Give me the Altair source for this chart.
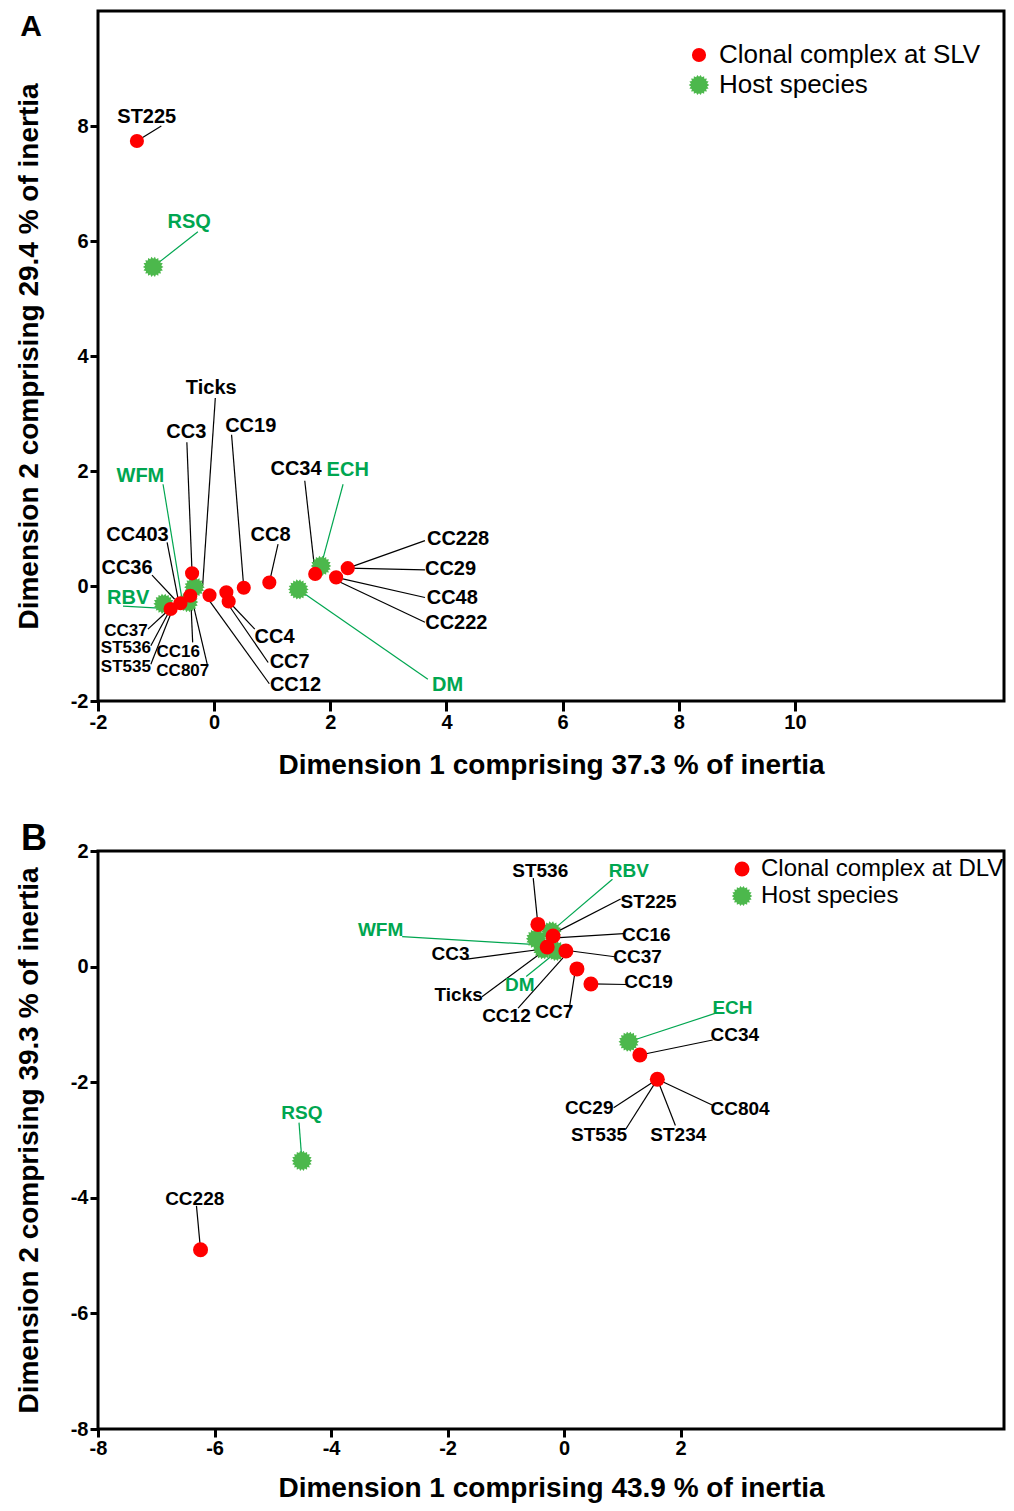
import math
import altair as alt
import pandas as pd

# ---------------- Panel A data ----------------
a_cc_x = [-1.33, -0.38, -0.75, -0.58, -0.41, -0.08, 0.21, 0.25, 0.51, 0.95, 1.74, 2.10, 2.30]
a_cc_y = [7.74, 0.22, -0.40, -0.30, -0.17, -0.16, -0.11, -0.27, -0.03, 0.06, 0.21, 0.15, 0.31]
a_host_names = ["RSQ", "RBV", "WFM", "Ticks", "DM", "ECH"]
a_host_x = [-1.05, -0.87, -0.45, -0.34, 1.45, 1.84]
a_host_y = [5.55, -0.31, -0.28, -0.02, -0.06, 0.35]

a_lab_text = ["ST225", "RSQ", "Ticks", "CC3", "CC19", "WFM", "CC403", "CC36", "RBV",
              "CC37", "ST536", "ST535", "CC16", "CC807", "CC4", "CC7", "CC12", "CC8",
              "CC34", "ECH", "DM", "CC228", "CC29", "CC48", "CC222"]
a_lab_kind = ["cc", "host", "cc", "cc", "cc", "host", "cc", "cc", "host",
              "cc", "cc", "cc", "cc", "cc", "cc", "cc", "cc", "cc",
              "cc", "host", "host", "cc", "cc", "cc", "cc"]
a_lab_x = [-1.16, -0.43, -0.05, -0.48, 0.63, -1.27, -1.32, -1.50, -1.48,
           -1.52, -1.52, -1.52, -0.62, -0.54, 1.04, 1.30, 1.40, 0.97,
           1.41, 2.30, 4.02, 4.20, 4.07, 4.10, 4.17]
a_lab_y = [8.16, 6.33, 3.44, 2.68, 2.78, 1.91, 0.89, 0.31, -0.20,
           -0.79, -1.07, -1.41, -1.14, -1.47, -0.88, -1.33, -1.72, 0.89,
           2.03, 2.02, -1.72, 0.82, 0.30, -0.20, -0.64]
a_ln_x0 = [-1.33, -1.05, -0.20, -0.38, 0.51, -0.55, -0.62, -0.68, -0.87,
           -0.83, -0.80, -0.75, -0.40, -0.37, 0.25, 0.18, -0.08, 0.95,
           1.74, 1.84, 1.45, 2.30, 2.30, 2.10, 2.10]
a_ln_y0 = [7.74, 5.55, -0.02, 0.22, -0.03, -0.25, -0.23, -0.23, -0.39,
           -0.46, -0.49, -0.49, -0.28, -0.28, -0.27, -0.23, -0.26, 0.06,
           0.21, 0.35, -0.06, 0.31, 0.31, 0.15, 0.10]
a_ln_x1 = [-0.91, -0.28, 0.02, -0.47, 0.30, -0.88, -0.81, -1.07, -1.57,
           -1.14, -1.09, -1.09, -0.37, -0.12, 0.70, 0.93, 0.95, 1.10,
           1.56, 2.22, 3.68, 3.63, 3.63, 3.63, 3.63]
a_ln_y1 = [8.00, 6.16, 3.27, 2.50, 2.63, 1.77, 0.76, 0.19, -0.35,
           -0.75, -1.04, -1.36, -0.98, -1.36, -0.75, -1.33, -1.70, 0.73,
           1.83, 1.77, -1.62, 0.79, 0.28, -0.20, -0.63]
a_small = ["CC37", "ST536", "ST535", "CC16", "CC807"]

# ---------------- Panel B data ----------------
b_cc_x = [-0.45, -0.19, -0.29, 0.03, 0.22, 0.46, 1.30, 1.60, -6.24]
b_cc_y = [0.73, 0.53, 0.34, 0.27, -0.04, -0.30, -1.53, -1.95, -4.90]
b_host_names = ["WFM", "RBV", "DM", "Ticks", "ECH", "RSQ"]
b_host_x = [-0.48, -0.22, -0.14, -0.36, 1.11, -4.50]
b_host_y = [0.48, 0.61, 0.27, 0.30, -1.30, -3.36]

b_lab_text = ["ST536", "RBV", "ST225", "WFM", "CC16", "CC3", "CC37", "Ticks", "DM",
              "CC12", "CC7", "CC19", "ECH", "CC34", "CC29", "ST535", "ST234", "CC804",
              "RSQ", "CC228"]
b_lab_kind = ["cc", "host", "cc", "host", "cc", "cc", "cc", "cc", "host",
              "cc", "cc", "cc", "host", "cc", "cc", "cc", "cc", "cc",
              "host", "cc"]
b_lab_x = [-0.41, 1.11, 1.45, -3.15, 1.41, -1.95, 1.26, -1.81, -0.76,
           -0.99, -0.17, 1.45, 2.89, 2.93, 0.43, 0.60, 1.96, 3.02,
           -4.50, -6.34]
b_lab_y = [1.65, 1.66, 1.12, 0.64, 0.54, 0.21, 0.17, -0.49, -0.31,
           -0.86, -0.79, -0.27, -0.72, -1.18, -2.44, -2.92, -2.92, -2.46,
           -2.54, -4.02]
b_ln_x0 = [-0.45, -0.22, -0.11, -0.48, -0.08, -0.39, 0.12, -0.39, -0.22,
           -0.02, 0.18, 0.46, 1.11, 1.30, 1.60, 1.60, 1.60, 1.60,
           -4.50, -6.24]
b_ln_y0 = [0.73, 0.61, 0.61, 0.38, 0.50, 0.30, 0.27, 0.24, 0.18,
           0.15, -0.14, -0.30, -1.30, -1.53, -1.95, -1.95, -1.95, -1.95,
           -3.36, -4.90]
b_ln_x1 = [-0.53, 0.83, 0.97, -2.78, 1.02, -1.67, 0.87, -1.41, -0.65,
           -0.79, 0.09, 1.07, 2.59, 2.55, 0.85, 1.06, 1.91, 2.55,
           -4.55, -6.31]
b_ln_y1 = [1.53, 1.51, 1.17, 0.52, 0.57, 0.13, 0.17, -0.52, -0.17,
           -0.72, -0.72, -0.31, -0.81, -1.27, -2.44, -2.81, -2.75, -2.40,
           -2.70, -4.14]
b_small = []

# ---------------- style ----------------
RED = "#ff0000"
GREEN_PT = "#4cb84c"
GREEN_TXT = "#00a650"
FONT = "Liberation Sans"

star = []
N = 18
for i in range(2 * N):
    r = 1.0 if i % 2 == 0 else 0.80
    a = math.pi * i / N
    star.append(f"{r*math.cos(a):.3f},{r*math.sin(a):.3f}")
STAR = "M" + " L".join(star) + " Z"


def panel(letter, cc_x, cc_y, host_x, host_y, lab_text, lab_kind, lab_x, lab_y,
          ln_x0, ln_y0, ln_x1, ln_y1, small, xdom, ydom, xticks, yticks,
          xtitle, ytitle, cc_name, w, h, legx, legy, rowpad, legfs, fs,
          letter_dx, letter_dy, letter_fs, xtitlepad, xticksize, cc_size):
    host_name = "Host species"
    pts = pd.DataFrame({
        "x": list(host_x) + list(cc_x),
        "y": list(host_y) + list(cc_y),
        "type": [host_name] * len(host_x) + [cc_name] * len(cc_x),
    })
    labs = pd.DataFrame({"t": lab_text, "k": lab_kind, "x": lab_x, "y": lab_y,
                         "x0": ln_x0, "y0": ln_y0, "x1": ln_x1, "y1": ln_y1})
    labs["small"] = labs["t"].isin(small)

    xs = alt.Scale(domain=xdom, nice=False, zero=False)
    ys = alt.Scale(domain=ydom, nice=False, zero=False)
    xax = alt.Axis(values=xticks, title=xtitle, labelExpr="'' + datum.value",
                   labelFlush=False, titlePadding=xtitlepad, tickSize=xticksize, labelPadding=1)
    yax = alt.Axis(values=yticks, title=ytitle, labelExpr="'' + datum.value",
                   labelFlush=False, titlePadding=27, tickSize=8, labelPadding=2)

    dom = [cc_name, host_name]
    leg = alt.Legend(title=None, orient="none", legendX=legx, legendY=legy,
                     labelFontSize=legfs, labelFont=FONT, labelFontWeight="normal",
                     labelColor="black", rowPadding=rowpad, labelOffset=7,
                     symbolStrokeWidth=0, symbolOpacity=1, labelLimit=500, padding=0)

    points = alt.Chart(pts).mark_point(filled=True, opacity=1, strokeWidth=0).encode(
        x=alt.X("x:Q", scale=xs, axis=xax),
        y=alt.Y("y:Q", scale=ys, axis=yax),
        color=alt.Color("type:N", scale=alt.Scale(domain=dom, range=[RED, GREEN_PT]), legend=leg),
        shape=alt.Shape("type:N", scale=alt.Scale(domain=dom, range=["circle", STAR]), legend=leg),
        size=alt.Size("type:N", scale=alt.Scale(domain=dom, range=[cc_size, 420]), legend=leg),
    )

    layers = []
    for kind, col, sw in [("cc", "black", 1.2), ("host", GREEN_TXT, 1.2)]:
        sub = labs[labs["k"] == kind]
        layers.append(alt.Chart(sub).mark_rule(color=col, strokeWidth=sw).encode(
            x="x0:Q", y="y0:Q", x2="x1:Q", y2="y1:Q"))
    layers.append(points)
    for kind, col in [("cc", "black"), ("host", GREEN_TXT)]:
        for sm, size in [(False, fs), (True, fs - 3)]:
            sub = labs[(labs["k"] == kind) & (labs["small"] == sm)]
            if len(sub) == 0:
                continue
            layers.append(alt.Chart(sub).mark_text(
                font=FONT, fontWeight="bold", fontSize=size, color=col,
                align="center", baseline="middle").encode(
                x="x:Q", y="y:Q", text="t:N"))
    layers.append(alt.Chart(alt.Data(values=[{"l": letter}])).mark_text(
        font=FONT, fontWeight="bold", fontSize=letter_fs, color="black",
        align="center", baseline="top").encode(
        x=alt.value(letter_dx), y=alt.value(letter_dy), text="l:N"))

    return alt.layer(*layers).properties(width=w, height=h)


A = panel("A", a_cc_x, a_cc_y, a_host_x, a_host_y, a_lab_text, a_lab_kind, a_lab_x, a_lab_y,
          a_ln_x0, a_ln_y0, a_ln_x1, a_ln_y1, a_small,
          [-2, 13.6], [-2, 10], [-2, 0, 2, 4, 6, 8, 10], [-2, 0, 2, 4, 6, 8],
          "Dimension 1 comprising 37.3 % of inertia",
          "Dimension 2 comprising 29.4 % of inertia",
          "Clonal complex at SLV", 906, 690, 588, 31, 4, 26, 20,
          -67, 1, 30, 19, 10, 200)

B = panel("B", b_cc_x, b_cc_y, b_host_x, b_host_y, b_lab_text, b_lab_kind, b_lab_x, b_lab_y,
          b_ln_x0, b_ln_y0, b_ln_x1, b_ln_y1, b_small,
          [-8, 7.55], [-8, 2], [-8, -6, -4, -2, 0, 2], [-8, -6, -4, -2, 0, 2],
          "Dimension 1 comprising 43.9 % of inertia",
          "Dimension 2 comprising 39.3 % of inertia",
          "Clonal complex at DLV", 906, 578, 632, 6, 3, 24, 19,
          -64, -29, 36, 16, 8, 225)

chart = alt.vconcat(A, B, spacing=38).resolve_scale(
    color="independent", shape="independent", size="independent"
).properties(
    padding={"left": 5, "top": 1, "right": 0, "bottom": 0}
).configure_view(stroke="black", strokeWidth=3).configure_axis(
    domain=False, grid=False, ticks=True, tickColor="black", tickWidth=3,
    labelFont=FONT, labelFontWeight="bold", labelFontSize=20, labelColor="black",
    titleFont=FONT, titleFontWeight="bold", titleFontSize=28,
    titleColor="black"
)

chart.save("out.html", embed_options={"renderer": "svg", "actions": False})
